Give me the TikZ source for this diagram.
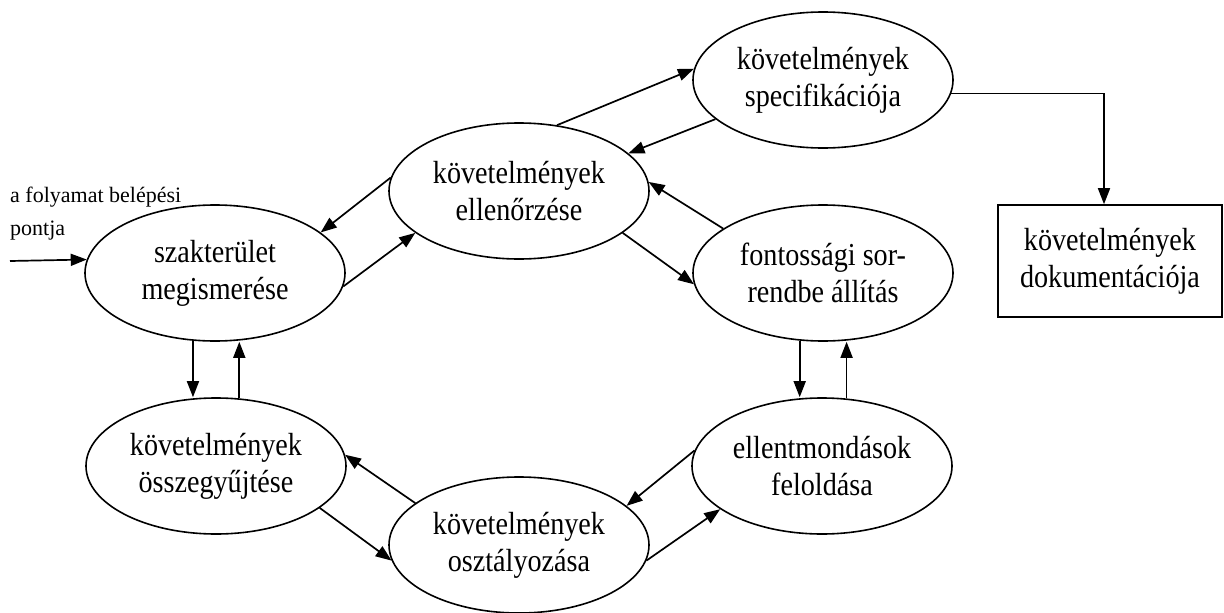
\documentclass[tikz,border=0pt]{standalone}
\usepackage{fontspec}
\setmainfont[FakeStretch=0.88]{Liberation Serif}
\newfontfamily\labelfont{Liberation Serif}
\usetikzlibrary{shapes.geometric,arrows.meta}
\begin{document}
\begin{tikzpicture}[x=1pt,y=-1pt,
  stage/.style={ellipse,draw,line width=1.6pt,minimum width=260pt,minimum height=136pt,inner sep=0pt,align=center,font=\fontsize{32}{37}\selectfont},
  docbox/.style={rectangle,draw,line width=1.6pt,minimum width=224pt,minimum height=112pt,inner sep=0pt,align=center,font=\fontsize{32}{37}\selectfont},
  arr/.style={line width=1.7pt,-{Triangle[length=16pt,width=12pt]}},
  entrylabel/.style={anchor=north west,inner sep=0pt,align=left,font=\labelfont\fontsize{22}{33}\selectfont}]
\useasboundingbox (0,0) rectangle (1224,613);

\node[stage] (sz)   at (215,273) {szakterület\\megismerése};
\node[stage] (ell)  at (519,191) {követelmények\\ellenőrzése};
\node[stage] (spec) at (823,80)  {követelmények\\specifikációja};
\node[stage] (font) at (823,273) {fontossági sor-\\rendbe állítás};
\node[stage] (ellm) at (822,466) {ellentmondások\\feloldása};
\node[stage] (oszt) at (519,545) {követelmények\\osztályozása};
\node[stage] (ossz) at (216,466) {követelmények\\összegyűjtése};
\node[docbox] (doc) at (1110,261) {követelmények\\dokumentációja};

\node[entrylabel] (lab) at (10,187) {a folyamat belépési\\pontja};
\coordinate (entry) at (10,261);

% entry
\draw[arr] (entry) -- (sz.174.6);
% szakterulet <-> ellenorzese
\draw[arr] (sz.-6.1) -- (ell.202.6);
\draw[arr] (ell.174.2) -- (sz.21.9);
% ellenorzese <-> specifikacio
\draw[arr] (ell.60.1) -- (spec.175.2);
\draw[arr] (spec.200.8) -- (ell.19.5);
% ellenorzese <-> fontossagi
\draw[arr] (font.156.9) -- (ell.4.8);
\draw[arr] (ell.-22) -- (font.185.2);
% fontossagi <-> ellentmondasok
\draw[arr] (font.-109) -- (font.-109 |- ellm.north);
\draw[arr] (ellm.70.3) -- (ellm.70.3 |- font.south);
% ellentmondasok <-> osztalyozasa
\draw[arr] (ellm.173.7) -- (oszt.20.6);
\draw[arr] (oszt.-7.5) -- (ellm.203);
% osztalyozasa <-> osszegyujtese
\draw[arr] (oszt.158.6) -- (ossz.5);
\draw[arr] (ossz.-22.6) -- (oszt.187.3);
% szakterulet <-> osszegyujtese
\draw[arr] (sz.-108.2) -- (sz.-108.2 |- ossz.north);
\draw[arr] (ossz.71.8) -- (ossz.71.8 |- sz.south);
% specifikacio -> dokumentacio
\draw[arr] (spec.-6.6) -| ([xshift=-6pt]doc.north);
\end{tikzpicture}
\end{document}
